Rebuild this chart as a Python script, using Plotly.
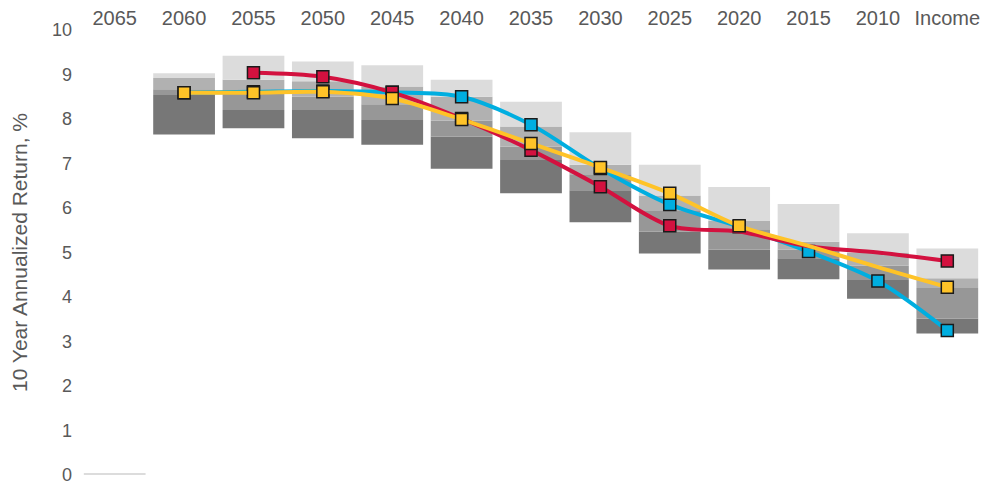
import numpy as np
import plotly.graph_objects as go

categories = ["2065", "2060", "2055", "2050", "2045", "2040", "2035", "2030",
              "2025", "2020", "2015", "2010", "Income"]

# Band boundaries (bottom to top) for the range bars
bound_1 = [0.00, 7.65, 7.79, 7.57, 7.42, 6.88, 6.33, 5.68, 4.98, 4.62, 4.40, 3.96, 3.18]
bound_2 = [0.00, 8.54, 8.20, 8.20, 7.98, 7.60, 7.08, 6.40, 5.47, 5.07, 4.87, 4.38, 3.51]
bound_3 = [0.00, 8.67, 8.60, 8.50, 8.33, 7.96, 7.38, 6.76, 5.93, 5.52, 5.06, 4.70, 4.20]
bound_4 = [0.00, 8.92, 8.88, 8.85, 8.73, 8.50, 7.83, 6.97, 6.28, 5.71, 5.24, 5.00, 4.42]
bound_5 = [0.04, 9.03, 9.42, 9.29, 9.21, 8.88, 8.39, 7.70, 6.97, 6.47, 6.09, 5.43, 5.09]

# Series values
blue_values = [None, 8.59, 8.61, 8.63, 8.60, 8.50, 7.87, 6.89, 6.08, 5.58, 5.02, 4.36, 3.25]
red_values = [None, None, 9.04, 8.95, 8.60, 8.01, 7.30, 6.48, 5.60, 5.47, 5.14, 5.00, 4.81]
yellow_values = [None, 8.59, 8.59, 8.61, 8.46, 7.99, 7.45, 6.91, 6.33, 5.60, 5.15, 4.67, 4.22]

# Which points carry a marker
blue_marked = [False, True, True, True, True, True, True, True, True, True, True, True, True]
red_marked = [False, False, True, True, True, True, True, True, True, False, False, False, True]
yellow_marked = [False, True, True, True, True, True, True, True, True, True, False, False, True]

band_colors = ["#777777", "#979797", "#b1b1b1", "#dcdcdc"]
bounds = [bound_1, bound_2, bound_3, bound_4, bound_5]

fig = go.Figure()
for i in range(4):
    lo = np.array(bounds[i], dtype=float)
    hi = np.array(bounds[i + 1], dtype=float)
    fig.add_trace(go.Bar(
        x=categories, y=hi - lo, base=lo,
        marker=dict(color=band_colors[i], line=dict(width=0)),
        width=0.89, hoverinfo="skip", showlegend=False,
    ))

series = [
    (blue_values, blue_marked, "#00aee0"),
    (red_values, red_marked, "#d3113f"),
    (yellow_values, yellow_marked, "#ffc328"),
]
for vals, marked, color in series:
    fig.add_trace(go.Scatter(
        x=categories, y=vals, mode="lines",
        line=dict(color=color, width=4, shape="spline", smoothing=0.9),
        connectgaps=False, showlegend=False, hoverinfo="skip",
    ))
    mvals = [v if m else None for v, m in zip(vals, marked)]
    fig.add_trace(go.Scatter(
        x=categories, y=mvals, mode="markers",
        marker=dict(symbol="square", size=12, color=color,
                    line=dict(color="#1a1a1a", width=1.5)),
        showlegend=False, hoverinfo="skip",
    ))

font_family = "Liberation Sans, Arial, sans-serif"
fig.update_layout(
    width=993, height=477,
    margin=dict(l=72, r=19, t=22, b=10),
    plot_bgcolor="white", paper_bgcolor="white",
    barmode="overlay",
    font=dict(family=font_family, color="#595959"),
    xaxis=dict(side="top", type="category", showgrid=False, showline=False,
               range=[-0.5, len(categories) - 0.5],
               zeroline=False, ticks="", tickfont=dict(size=20, color="#595959"),
               automargin=False, ticklabelstandoff=0, ticklabeloverflow="allow"),
    yaxis=dict(range=[0, 10], dtick=1, showgrid=False, showline=False,
               zeroline=False, ticks="", tickfont=dict(size=18, color="#595959"),
               automargin=False, ticklabelstandoff=7, ticklabeloverflow="allow",
               title=dict(text="10 Year Annualized Return, %",
                          font=dict(size=21, color="#595959"), standoff=21)),
)

fig.write_html("out.html")
